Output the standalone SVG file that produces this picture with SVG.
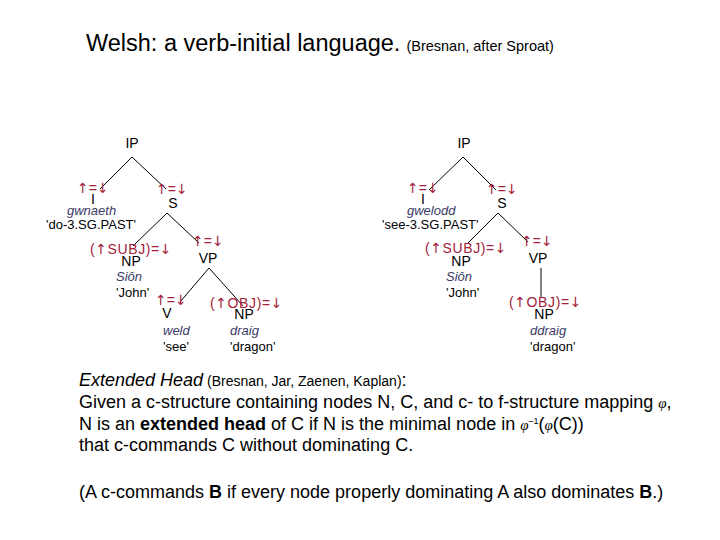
<svg xmlns="http://www.w3.org/2000/svg" width="720" height="540" viewBox="0 0 720 540">
<style>
  text { font-family: "Liberation Sans", Arial, sans-serif; fill: #000; }
  .cat { font-size: 14px; text-anchor: middle; }
  .ann { font-size: 14px; fill: #a3213a; }
  .ar { font-family: "DejaVu Sans", sans-serif; font-size: 14px; }
  .word { font-size: 13px; font-style: italic; fill: #3a3a66; }
  .gloss { font-size: 13px; }
  .body { font-size: 18px; }
  .small { font-size: 14px; }
  .phi { font-family: "Liberation Serif", serif; font-style: italic; font-size: 15px; }
  .conn line { stroke: #000; stroke-width: 1; }
</style>
<rect width="720" height="540" fill="#fff"/>

<g id="title">
  <text x="86" y="51" font-size="23.5">Welsh: a verb-initial language.<tspan font-size="14.5" dx="6">(Bresnan, after Sproat)</tspan></text>
</g>

<g id="connectors" class="conn">
  <line x1="132" y1="157" x2="100" y2="189"/>
  <line x1="132" y1="157" x2="166" y2="189"/>
  <line x1="167" y1="213" x2="133" y2="246"/>
  <line x1="167" y1="213" x2="199" y2="243"/>
  <line x1="209" y1="268" x2="180" y2="302"/>
  <line x1="209" y1="268" x2="243" y2="306"/>
  <line x1="463" y1="157" x2="429" y2="190"/>
  <line x1="463" y1="157" x2="496" y2="190"/>
  <line x1="498" y1="213" x2="468" y2="243"/>
  <line x1="498" y1="213" x2="528" y2="242"/>
  <line x1="541" y1="268" x2="541" y2="298"/>
</g>

<!-- Left tree -->
<g id="L-IP"><text class="cat" x="132" y="148">IP</text></g>
<g id="L-I">
  <text class="ann" x="77" y="193"><tspan class="ar">↑</tspan>=<tspan class="ar">↓</tspan></text>
  <text class="cat" x="93" y="204">I</text>
  <text class="word" x="67" y="215">gwnaeth</text>
  <text class="gloss" x="46" y="229">'do-3.SG.PAST'</text>
</g>
<g id="L-S">
  <text class="ann" x="156" y="194"><tspan class="ar">↑</tspan>=<tspan class="ar">↓</tspan></text>
  <text class="cat" x="173" y="208">S</text>
</g>
<g id="L-NPsubj">
  <text class="ann" x="90" y="254" letter-spacing="0.6">(<tspan class="ar">↑</tspan>SUBJ)=<tspan class="ar">↓</tspan></text>
  <text class="cat" x="131" y="266">NP</text>
  <text class="word" x="116" y="281">Siôn</text>
  <text class="gloss" x="116" y="297">'John'</text>
</g>
<g id="L-VP">
  <text class="ann" x="192" y="246"><tspan class="ar">↑</tspan>=<tspan class="ar">↓</tspan></text>
  <text class="cat" x="208" y="263">VP</text>
</g>
<g id="L-V">
  <text class="ann" x="155" y="305"><tspan class="ar">↑</tspan>=<tspan class="ar">↓</tspan></text>
  <text class="cat" x="167" y="318">V</text>
  <text class="word" x="163" y="335">weld</text>
  <text class="gloss" x="163" y="351">'see'</text>
</g>
<g id="L-NPobj">
  <text class="ann" x="210" y="308" letter-spacing="0.6">(<tspan class="ar">↑</tspan>OBJ)=<tspan class="ar">↓</tspan></text>
  <text class="cat" x="244" y="319">NP</text>
  <text class="word" x="230" y="335">draig</text>
  <text class="gloss" x="230" y="351">'dragon'</text>
</g>

<!-- Right tree -->
<g id="R-IP"><text class="cat" x="464" y="148">IP</text></g>
<g id="R-I">
  <text class="ann" x="407" y="193"><tspan class="ar">↑</tspan>=<tspan class="ar">↓</tspan></text>
  <text class="cat" x="423" y="204">I</text>
  <text class="word" x="407" y="215">gwelodd</text>
  <text class="gloss" x="382" y="229">'see-3.SG.PAST'</text>
</g>
<g id="R-S">
  <text class="ann" x="486" y="194"><tspan class="ar">↑</tspan>=<tspan class="ar">↓</tspan></text>
  <text class="cat" x="502" y="208">S</text>
</g>
<g id="R-NPsubj">
  <text class="ann" x="425" y="253" letter-spacing="0.6">(<tspan class="ar">↑</tspan>SUBJ)=<tspan class="ar">↓</tspan></text>
  <text class="cat" x="461" y="266">NP</text>
  <text class="word" x="446" y="281">Siôn</text>
  <text class="gloss" x="446" y="297">'John'</text>
</g>
<g id="R-VP">
  <text class="ann" x="521" y="246"><tspan class="ar">↑</tspan>=<tspan class="ar">↓</tspan></text>
  <text class="cat" x="538" y="263">VP</text>
</g>
<g id="R-NPobj">
  <text class="ann" x="509" y="307" letter-spacing="0.6">(<tspan class="ar">↑</tspan>OBJ)=<tspan class="ar">↓</tspan></text>
  <text class="cat" x="544" y="319">NP</text>
  <text class="word" x="530" y="335">ddraig</text>
  <text class="gloss" x="530" y="351">'dragon'</text>
</g>

<g id="definition">
  <text class="body" x="79" y="386"><tspan font-style="italic">Extended Head</tspan><tspan class="small"> (Bresnan, Jar, Zaenen, Kaplan)</tspan>:</text>
  <text class="body" x="79" y="408">Given a c-structure containing nodes N, C, and c- to f-structure mapping <tspan class="phi">φ</tspan>,</text>
  <text class="body" x="79" y="430">N is an <tspan font-weight="bold">extended head</tspan> of C if N is the minimal node in <tspan class="phi">φ</tspan><tspan font-size="9" dy="-6">–1</tspan><tspan dy="6">(</tspan><tspan class="phi">φ</tspan>(C))</text>
  <text class="body" x="79" y="451">that c-commands C without dominating C.</text>
  <text class="body" x="79" y="498">(A c-commands <tspan font-weight="bold">B</tspan> if every node properly dominating A also dominates <tspan font-weight="bold">B</tspan>.)</text>
</g>
</svg>
